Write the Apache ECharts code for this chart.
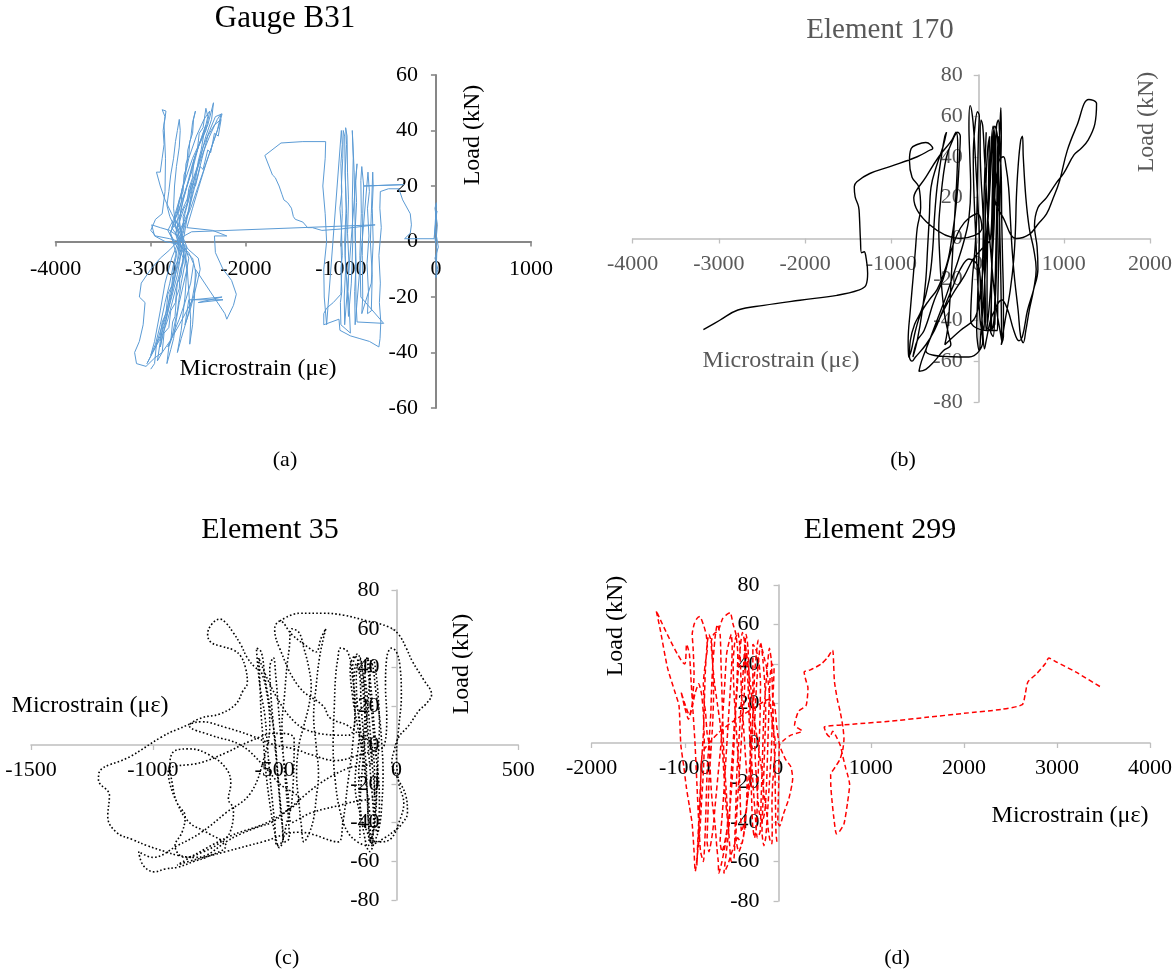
<!DOCTYPE html>
<html><head><meta charset="utf-8">
<script src="https://cdn.jsdelivr.net/npm/echarts@6/dist/echarts.min.js"></script>
<style>html,body{margin:0;padding:0;background:#fff;}#c{width:1175px;height:974px;}</style>
</head><body><div id="c"></div>
<script>
// ---------------- DATA ----------------
const titles = ['Gauge B31', 'Element 170', 'Element 35', 'Element 299'];
const panelLabels = ['(a)', '(b)', '(c)', '(d)'];
const xName = 'Microstrain (με)';
const yName = 'Load (kN)';

// Gauge B31: [microstrain, load kN]
const gaugeB31 = [
[0,0],[15,6],[-10,12],[5,14],[-5,4],[25,-2],[-10,-6],[20,-10],[0,-13],[10,-3],[-15,2],[-5,8],[10,11],[-20,1],
[-330,1],[-270,3],[-258,6],[-270,10],[-350,15],[-390,19],[-500,19],[-585,18],
[-590,12],[-575,5],[-600,-5],[-585,-15],[-595,-22],[-580,-29],[-588,-35],[-600,-38],
[-700,-36],[-800,-35],[-900,-34],[-1010,-32],[-1020,-28],
[-1180,-30],[-1180,-26],[-1150,-24],[-1080,-22],[-1000,-19],
[-990,-10],[-1000,0],[-985,10],[-995,20],[-980,30],[-975,40],[-960,38],
[-955,25],[-940,10],[-955,-5],[-930,-20],[-920,-27],
[-890,-15],[-875,0],[-880,15],[-870,30],[-880,40],
[-860,25],[-850,5],[-845,-10],[-840,-22],
[-830,-29],[-550,-29.5],
[-790,-20],[-800,-5],[-785,10],[-790,22],[-780,27],
[-760,20],[-340,20.5],[-330,21],
[-760,20],[-770,10],[-775,-5],[-770,-20],[-780,-26],
[-680,-15],[-660,0],[-670,12],[-660,20],[-665,25],
[-680,10],[-690,0],[-670,-12],[-680,-25],
[-720,-26],[-710,-18],[-725,-8],[-705,2],[-720,12],[-700,18],[-715,25],
[-850,-30],[-855,-18],[-840,-8],[-850,4],[-835,14],[-845,22],[-830,28],
[-960,-30],[-965,-20],[-950,-10],[-960,0],[-945,12],[-955,25],[-940,35],[-950,41],[-935,38],[-930,25],[-920,15],[-930,3],[-915,-8],[-925,-18],[-910,-25],[-900,-33],
[-1000,-30],[-1005,-22],[-990,-18],[-1000,-10],[-985,-5],[-995,5],[-1010,12],[-990,18],[-1000,28],[-985,35],[-995,40],
[-1150,-30],[-1175,-20],[-1180,-10],[-1150,0],[-1165,10],[-1190,20],[-1165,30],[-1160,36],[-1400,36],[-1630,35.5],[-1800,31],
[-1720,24],[-1690,23],[-1650,20],[-1620,17],[-1600,15],[-1560,14],[-1520,12],[-1500,9],[-1480,8],[-1400,7],[-1350,5],[-1300,5],[-1200,4],[-1000,4.5],[-640,6],[-2570,3.5],
[-2650,2],[-2700,0],[-2760,-8],[-2800,-15],[-2850,-22],[-2900,-30],[-2950,-37],[-3000,-41],[-2960,-36],[-2900,-25],[-2850,-15],[-2780,-6],[-2720,-1],[-2680,3],[-2640,10],[-2580,18],[-2520,25],[-2450,32],[-2380,38],[-2300,44],[-2260,46],[-2300,40],[-2360,34],[-2420,28],[-2500,20],[-2580,12],[-2650,6],[-2720,2],[-2800,4],[-2900,5],[-2990,6],[-2960,2],[-2850,0],[-2700,-1],[-2600,-4],[-2550,-8],[-2580,-15],[-2640,-22],[-2700,-28],[-2760,-33],[-2820,-38],
[-2780,-35],[-2720,-25],[-2680,-15],[-2640,-8],[-2620,-2],[-2680,3],[-2700,8],[-2660,15],[-2600,22],[-2540,30],[-2480,36],[-2400,42],[-2340,50],[-2360,44],[-2420,38],[-2480,30],[-2560,22],[-2620,15],[-2700,9],[-2800,3],[-2750,0],[-2650,-3],[-2560,-6],[-2520,-12],[-2560,-20],[-2620,-28],[-2680,-35],[-2720,-40],
[-2680,-32],[-2640,-20],[-2620,-10],[-2660,-3],[-2720,2],[-2750,8],[-2700,14],[-2650,22],[-2600,30],[-2520,38],[-2440,44],[-2380,47],[-2420,40],[-2500,34],[-2560,26],[-2640,18],[-2720,10],[-2780,5],[-2700,1],[-2600,-3],[-2500,-6],[-2480,-10],[-2520,-16],[-2580,-24],[-2640,-30],
[-2600,-21],[-2240,-21],[-2500,-22],[-2250,-20],[-2560,-21],
[-2700,-30],[-2800,-36],[-2880,-40],[-2960,-42],[-3050,-45],[-3150,-44],[-3170,-40],[-3120,-36],[-3080,-30],[-3060,-22],[-3120,-20],[-3100,-15],[-3000,-10],[-2900,-6],[-2800,-3],[-2720,0],
[-2700,5],[-2780,10],[-2850,15],[-2900,20],[-2940,25],[-2900,25],[-2880,30],[-2860,35],[-2870,40],[-2850,45],[-2880,47.5],[-2840,47],[-2860,42],[-2845,30],[-2850,18],[-2880,10],[-2950,8],[-3000,4],[-2950,2],[-2800,1],[-2700,0],
[-2650,-5],[-2700,-12],[-2760,-20],[-2820,-28],[-2880,-34],[-2900,-38],[-2860,-32],[-2800,-22],[-2740,-12],[-2680,-4],[-2640,4],[-2600,12],[-2560,20],[-2500,28],[-2450,34],[-2380,40],[-2320,45],[-2250,46],[-2280,42],[-2340,36],[-2420,28],[-2500,19],[-2560,12],[-2620,5],
[-2350,4],[-2200,2],[-2330,2],[-2320,-4],[-2240,-10],[-2150,-14],[-2100,-19],[-2130,-23],[-2200,-28],[-2220,-26],
[-2530,-10],[-2540,-20],[-2560,-30],[-2590,-37],[-2580,-28],[-2600,-18],[-2620,-8],[-2660,0],[-2700,6],[-2680,12],[-2620,20],[-2560,28],[-2500,34],[-2460,38],[-2420,42],
[-2480,36],[-2560,30],[-2640,22],[-2700,15],[-2760,8],[-2820,4],[-2760,0],[-2680,-4],[-2720,-12],[-2780,-20],[-2840,-28],[-2900,-35],[-2980,-40],[-3040,-44],[-2950,-38],[-2860,-28],[-2780,-18],[-2720,-8],[-2700,0],[-2640,6],[-2580,14],[-2520,22],[-2460,30],[-2400,38],[-2330,42],[-2260,44],
[-2290,38],[-2330,39],[-2370,32],[-2400,33],[-2450,26],[-2480,27],[-2530,20],[-2570,21],[-2610,14],[-2650,12],[-2700,7],[-2740,3],[-2700,-2],[-2660,-6],[-2680,-12],[-2720,-15],[-2740,-22],[-2790,-25],[-2810,-31],[-2860,-33],[-2880,-40],[-2930,-43],[-2900,-36],[-2870,-30],[-2830,-26],[-2800,-19],[-2770,-15],[-2740,-9],[-2700,-5],[-2680,1],[-2650,4],[-2660,9],[-2620,13],[-2600,19],[-2560,23],[-2550,29],[-2510,33],[-2490,39],[-2450,41],[-2420,48],[-2400,45],[-2440,39],[-2470,33],[-2500,29],[-2530,22],[-2560,18],[-2600,11],[-2640,8],[-2680,5],[-2720,4],[-2760,6],[-2800,9],[-2830,13],[-2810,18],[-2790,24],[-2760,30],[-2740,36],[-2720,40],[-2700,44],[-2690,40],[-2700,34],[-2730,27],[-2750,20],[-2760,12],[-2740,6],[-2700,2],[-2640,-2],[-2600,-6],[-2620,-10],[-2660,-16],[-2700,-22],[-2730,-28],[-2760,-35],[-2790,-39],[-2830,-44],
[-2810,-38],[-2790,-36],[-2770,-29],[-2745,-27],[-2730,-20],[-2700,-17],[-2690,-10],[-2660,-8],[-2650,-2],[-2680,2],[-2720,5],[-2710,10],[-2680,14],[-2670,19],[-2640,22],[-2630,28],[-2600,31],[-2590,36],[-2560,39],[-2550,44],[-2530,47],[-2560,43],[-2580,37],[-2610,33],[-2620,27],[-2650,24],[-2660,18],[-2700,15],[-2720,10],[-2760,7],[-2790,3],[-2760,-1],[-2730,-5],[-2760,-10],[-2780,-16],[-2820,-19],[-2840,-26],[-2880,-29],[-2900,-34],[-2940,-37],[-2960,-44],[-3000,-46]
];

// Element 170
const element170 = [
[-3180,-44.6],[-2990,-40],[-2780,-35],[-2480,-32.7],[-2060,-30.2],[-1630,-27.8],[-1380,-25.3],[-1295,-22.9],[-1275,-17],[-1295,-9],[-1315,-6.5],[-1345,-7],[-1358,-1],[-1370,10.6],[-1380,15.5],[-1420,20.4],[-1430,25.3],[-1400,27.8],[-1250,31.8],[-1000,35.4],[-700,40],[-550,43.3],
[-520,44],[-600,47],[-700,46],[-770,44],[-790,38],[-760,30],[-680,25],[-660,15],[-700,5],[-720,-5],[-745,-18],[-780,-35],[-805,-50],[-800,-58],[-770,-55],[-720,-45],[-650,-36],[-560,-30],[-470,-25],[-400,-18],[-340,-10],[-300,0],[-260,12],[-230,25],[-210,40],[-200,50],[-230,52],[-300,47],[-360,40],[-400,30],[-430,18],[-450,5],[-440,-8],[-420,-22],[-380,-38],[-330,-48],[-310,-52],
[-400,-55],[-500,-60],[-600,-64],[-680,-65],[-650,-60],[-560,-50],[-470,-40],[-380,-30],[-300,-20],[-220,-10],[-150,0],[-100,10],[-80,25],[-90,40],[-100,55],[-85,65],[-60,60],[-40,50],[-20,35],[0,20],[20,0],[10,-15],[0,-30],[-10,-45],[20,-55],[40,-45],[70,-30],[90,-15],[110,0],[130,15],[150,30],[170,45],[200,55],[230,50],[240,35],[250,20],[260,0],[270,-20],[275,-35],[280,-50],[260,-45],[220,-35],[180,-20],[150,-5],[120,10],[100,25],[80,40],[60,55],[40,58],[30,45],[40,30],[60,15],[70,0],[80,-15],[90,-30],[100,-45],[120,-40],[150,-25],[170,-10],[190,5],[200,20],[210,40],[220,55],[240,58],[260,45],[275,30],[280,10],[290,-10],[300,-30],[300,-48],[275,-52],
[320,-40],[380,-25],[420,-10],[440,5],[450,20],[470,35],[500,48],[520,50],[530,40],[560,20],[600,5],[650,-5],[680,-15],[650,-25],[600,-35],[560,-45],[530,-51],[500,-48],[470,-35],[430,-20],[400,-5],[380,10],[360,25],[330,35],[300,40],[250,38],
[200,20],[300,10],[450,0],[600,2],[700,7],[800,12],[870,19],[950,28],[1040,43],[1150,55],[1290,68],[1380,66],[1360,56],[1280,48],[1200,44],[1120,41],[1000,32],[910,27],[800,20],[700,15],[660,6],[690,-4],[700,-15],[650,-25],[580,-35],[520,-48],[480,-50],[420,-45],[350,-35],[280,-30],[200,-35],[150,-40],[100,-50],[80,-54],[60,-45],[40,-30],[20,-15],
[-100,-10],[-200,-15],[-300,-25],[-400,-35],[-500,-45],[-600,-52],[-720,-58],[-760,-60],[-790,-58],[-780,-50],[-730,-42],[-650,-35],[-560,-20],[-520,-5],[-500,10],[-470,25],[-420,40],[-380,50],[-360,52],[-400,45],[-480,35],[-540,25],[-560,10],[-580,-5],[-600,-20],[-640,-35],[-700,-50],[-750,-58],
[-700,-50],[-620,-45],[-500,-30],[-400,-20],[-300,-5],[-200,5],[-100,10],[0,12],[50,5],
[-200,0],[-740,20],[-600,30],[-450,40],[-300,48],[-250,52],[-230,45],[-240,30],[-260,15],[-280,0],[-300,-15],[-320,-30],[-350,-45],[-380,-52],
[-200,-45],[-50,-40],[0,-35],[50,-20],[100,0],[130,20],[150,40],[180,55],[200,48],[190,30],[180,10],[170,-10],[160,-30],[150,-45],[180,-48],[200,-35],[220,-15],[230,5],[240,25],[250,45],[260,55],[270,64],[275,50],[265,30],[255,10],[245,-10],[235,-30],[230,-45],
[100,-45],[-80,-40],[-60,-20],[-30,-5],[-10,10],[0,30],[10,50],[20,60],[0,62],[-30,55],[-50,40],[-40,20],[-20,0],[0,-20],[30,-40],[60,-50],
[-100,-58],[-600,-55],[-450,-40],[-300,-28],[-150,-18],[-50,-10],[50,-5],[150,0],
[170,20],[180,40],[190,52],[185,30],[175,10],[165,-10],[160,-30],[165,-45],[190,-40],[205,-20],[215,0],[225,20],[230,40],[240,50],[235,30],[225,10],[215,-10],[205,-30],[200,-42],[120,-45],[110,-25],[115,-5],[125,15],[130,35],[140,50],[120,45],[100,30],[90,10],[85,-10],[80,-30],[75,-45],[50,-40],[55,-20],[65,0],[75,20],[90,40],[100,52]
];

// Element 35
const element35 = [
[-478,64],[-400,68],[-300,68],[-217,67],[-120,64],[-33,61],[9,57],[40,50],[66,43],[110,34],[144,26],[120,21],[94,18],[50,10],[9,4],[-10,-3],[-19,-9],[0,-16],[38,-26],[45,-35],[20,-41],[-5,-44],[-50,-48],[-97,-51],
[-120,-45],[-150,-35],[-170,-20],[-160,-5],[-150,10],[-170,25],[-180,40],[-160,47],[-140,38],[-130,20],[-120,5],[-110,-10],[-100,-25],[-90,-40],[-80,-45],[-70,-30],[-75,-15],[-90,0],[-100,15],[-110,30],[-120,45],[-100,42],[-85,28],[-70,15],[-60,0],[-55,-15],[-60,-30],[-70,-42],[-90,-50],[-110,-55],[-130,-48],[-150,-30],[-155,-15],[-140,0],[-130,15],[-140,30],[-155,42],[-170,46],[-190,40],[-180,25],[-160,10],[-140,-5],[-125,-20],[-110,-35],[-105,-48],
[-60,-50],[-20,-48],[10,-40],[30,-30],[10,-20],[0,-5],[10,10],[20,25],[15,40],[0,48],[-20,50],[-40,45],[-45,30],[-40,15],[-50,0],
[-150,-5],[-250,-8],[-350,-5],[-420,-2],[-500,0],
[-600,5],[-700,9],[-800,12],[-900,8],[-966,4],[-1093,-6],[-1220,-14],[-1223,-18],[-1178,-26],[-1185,-37],[-1150,-45],[-1080,-49],[-1022,-52],[-950,-55],[-895,-57],[-830,-58],[-782,-57],[-700,-50],[-641,-46],[-560,-42],[-513,-40],[-460,-35],[-400,-28],
[-480,-20],[-550,-10],[-640,0],[-760,5],[-850,10],[-800,14],[-725,16],[-660,21],[-630,28],[-612,32],[-620,40],[-640,46],[-669,49],[-720,51],[-761,53],[-775,57],[-760,62],[-725,65],[-700,63],[-670,58],[-640,52],[-612,45],[-580,40],[-556,38],
[-530,25],[-520,10],[-540,-5],[-600,-25],[-700,-35],[-800,-45],[-900,-52],[-1000,-58],[-1058,-55],[-1040,-62],[-994,-65.5],[-950,-64],[-895,-63],[-830,-60],[-782,-58],[-700,-52],
[-780,-45],[-850,-40],[-900,-30],[-920,-20],[-930,-10],[-910,-3],[-850,-2],[-770,-5],[-700,-12],[-680,-20],[-690,-28],[-669,-33],[-683,-45],[-720,-50],[-790,-55],[-870,-58],[-909,-52],[-880,-45],[-867,-37],[-900,-30],[-930,-20],[-937,-13],
[-800,-9],[-700,-4],[-600,2],[-500,6],[-471,6],[-420,3],
[-430,-30],[-450,-40],[-470,-50],[-490,-52],[-500,-40],[-510,-28],[-520,-15],[-530,0],[-540,15],[-560,30],[-570,42],[-575,50],[-555,48],[-540,35],[-520,20],[-500,5],[-490,-10],[-480,-25],[-470,-38],[-460,-50],[-440,-48],[-445,-35],[-455,-20],[-465,-5],[-470,10],[-460,25],[-450,40],[-440,50],[-430,60],[-400,58],[-380,50],[-360,40],[-350,30],[-360,20],[-380,10],[-400,0],[-410,-15],[-400,-30],[-390,-42],[-380,-50],[-360,-46],[-340,-38],[-330,-28],[-320,-15],[-330,0],[-340,15],[-330,30],[-316,45],[-300,55],[-290,60],[-310,55],[-330,48],
[-358,50],[-429,57],[-478,64],[-500,60],[-480,50],
[-400,30],[-300,20],[-273,14],[-200,10],[-150,5],[-100,0],
[-90,-20],[-95,-40],[-120,-52],[-160,-50],[-200,-45],[-230,-35],[-250,-20],[-260,0],[-255,20],[-250,35],[-240,45],[-230,50],[-200,48],[-180,35],[-170,20],[-180,0],[-200,-20],[-220,-40],[-240,-50],
[-400,-45],[-550,-50],[-700,-55],[-850,-60],[-900,-62],[-700,-48],[-500,-38],[-316,-20],[-200,-12],[-100,-8],
[-110,10],[-120,25],[-130,40],[-120,45],[-105,30],[-95,15],[-85,0],[-80,-15],[-85,-30],[-95,-45],[-100,-52],[-115,-40],[-120,-25],[-130,-10],[-145,5],[-160,20],[-165,35],[-150,45],[-135,35],[-125,20],[-115,5],[-100,-10],[-90,-25],
[-200,-30],[-350,-35],[-430,-40],[-445,-25],[-460,-10],[-475,5],[-485,20],[-495,35],[-505,45],[-520,40],[-515,25],[-505,10],[-495,-5],[-485,-20],[-475,-35],[-465,-48],[-480,-53],[-500,-45],[-520,-30],[-535,-15],[-545,0],[-555,15],[-560,30],[-565,45],
[-400,10],[-200,5],[-170,15],[-175,30],[-165,42],[-150,35],[-145,20],[-135,5],[-125,-10],[-120,-25],[-115,-40],[-110,-50],[-95,-45],[-85,-35],[-80,-20],[-75,-5],[-70,10],[-75,25],[-85,38],[-95,44],[-105,40],[-115,25],[-125,10],[-135,-5],[-145,-20],[-150,-35],[-150,-48]
];

// Element 299
const element299 = [
[-10,-50],[-20,-45],[-25,-30],[-30,-15],[-40,0],[-50,15],[-60,30],[-70,42],[-90,48],[-110,40],[-130,28],[-150,15],[-160,0],[-170,-15],[-180,-30],[-190,-45],[-220,-48],[-240,-38],[-260,-25],[-280,-10],[-290,5],[-300,20],[-310,35],[-320,48],[-340,55],[-360,45],[-380,30],[-400,15],[-420,0],[-440,-15],[-450,-30],[-460,-45],[-470,-58],[-500,-60],[-520,-50],[-540,-35],[-560,-20],[-580,-5],[-590,10],[-600,25],[-610,40],[-620,55],[-650,60],[-670,55],[-690,45],[-710,30],[-720,15],[-740,0],[-760,-15],[-770,-30],[-780,-45],[-800,-60],[-830,-55],[-850,-40],[-870,-20],[-890,0],[-910,15],[-930,30],[-950,45],[-980,50],[-1000,40],
[-1307,67],[-1266,58],[-1185,38],[-1100,25],[-1062,19],[-1042,-1],[-1010,-12],[-981,-23],[-950,-32],[-920,-41],[-900,-55],[-887,-65],
[-860,-55],[-838,-45],[-820,-30],[-800,-15],[-790,0],[-800,15],[-820,25],[-850,30],[-890,25],[-920,18],[-960,12],[-1000,18],[-1040,26],[-1000,20],[-950,14],[-920,20],[-900,35],[-910,48],[-920,55],[-900,60],[-870,63],[-838,64],[-800,60],[-770,55],[-757,48],[-780,40],[-800,30],[-790,20],[-777,16],[-760,5],[-736,-1],[-730,-10],[-716,-23],[-700,-32],[-675,-41],[-660,-50],[-655,-53],[-640,-60],[-634,-66],
[-600,-60],[-560,-50],[-540,-40],[-560,-30],[-580,-15],[-600,0],[-620,10],[-650,20],[-680,30],[-700,40],[-716,51],[-690,55],[-640,57],[-593,63],[-550,65],[-512,66],[-480,60],[-450,55],[-430,45],[-440,30],[-460,15],[-480,0],[-500,-15],[-510,-25],[-520,-40],[-540,-50],[-560,-58],[-580,-66],
[-540,-62],[-512,-58],[-470,-52],[-430,-48],[-390,-51],[-360,-45],[-340,-35],[-330,-20],[-350,-5],[-370,10],[-390,25],[-400,38],[-410,50],[-430,56],[-460,52],[-480,40],[-470,25],[-450,10],[-430,-5],[-410,-20],[-400,-35],[-390,-45],
[-360,-40],[-330,-30],[-300,-20],[-280,-5],[-270,10],[-268,25],[-268,40],[-268,50],[-240,48],[-220,45],[-200,40],[-186,30],[-190,15],[-200,0],[-210,-15],[-220,-30],[-230,-42],[-250,-48],[-270,-42],[-280,-30],[-290,-15],[-300,0],[-310,15],[-320,30],[-340,45],[-349,50],
[-320,40],[-290,28],[-260,15],[-230,5],[-200,-5],[-170,-15],[-150,-25],[-120,-35],[-100,-45],[-80,-50],[-63,-51],[-60,-40],[-63,-31],[-55,-20],[-43,-14],[-30,-5],[-23,-1],[-40,5],[-63,11],[-80,20],[-104,31],[-120,38],[-145,43],[-160,46],[-186,50],[-200,45],[-220,35],[-240,20],[-250,5],[-240,-10],[-220,-25],[-200,-35],[-170,-40],[-140,-35],[-120,-20],[-110,-5],[-100,10],[-90,25],[-80,35],
[-60,40],[-40,38],[-50,25],[-60,10],[-70,-5],[-90,-20],[-110,-35],[-130,-48],[-150,-52],[-170,-45],[-160,-30],[-150,-15],[-140,0],[-130,15],[-140,30],[-160,42],[-180,50],[-210,52],[-230,45],[-250,35],[-260,20],[-280,5],[-300,-10],[-320,-25],[-350,-40],[-380,-50],[-420,-55],[-450,-48],[-440,-35],[-420,-20],[-400,-5],[-380,10],[-360,25],[-350,40],[-360,52],[-380,56],[-400,50],[-420,40],[-440,25],[-460,10],[-480,-10],[-500,-25],[-520,-35],[-560,-48],[-600,-55],[-620,-50],[-600,-38],[-580,-25],[-560,-10],[-540,5],[-520,20],[-500,35],[-490,48],[-500,55],[-520,52],[-550,45],[-570,30],[-590,15],[-610,0],[-640,-15],[-670,-30],[-700,-45],[-740,-55],[-760,-50],[-750,-35],[-740,-20],[-720,-5],[-700,10],[-690,25],[-700,40],[-710,50],[-740,55],[-760,50],[-780,35],[-790,20],[-800,5],[-820,-10],[-840,-30],[-860,-50],[-870,-62],
[-850,-45],[-830,-25],[-810,-5],[-640,5],[-450,12],[-250,18],[-100,22],[-40,20],
[-10,8],[18,-1],[80,-8],[140,-12],[160,-18],[120,-28],[60,-36],[20,-42],[0,-40],[10,-20],[18,-1],
[80,2],[140,4],[263,6],[180,9],[222,16],[304,19],[324,28],[300,32],[283,36],[350,37],[467,40],[530,43],[589,47],[600,40],[609,31],[640,22],[670,16],[700,8],[711,2],[700,-3],[670,-8],[620,-12],[568,-16],[570,-22],[580,-28],[600,-37],[630,-46],[660,-45],[711,-41],[750,-30],[772,-21],[750,-16],[731,-13],[700,-7],[670,-1],[620,4],[590,6],[560,3],[520,5],[499,8],
[800,9.5],[1200,11],[1600,13],[2000,15],[2400,17],[2627,19.4],[2660,25],[2688,31],[2780,35],[2872,40],[2913,43],[2994,41],[3200,36],[3483,28]
];

// ---------------- CHART ----------------
const FONT = '"Liberation Serif", "Times New Roman", serif';
const chart = echarts.init(document.getElementById('c'), null, {renderer: 'canvas'});

const grids = [
  {left: 55.7, top: 75, width: 475.3, height: 333},
  {left: 632.7, top: 75, width: 519, height: 327},
  {left: 31, top: 590, width: 487.3, height: 310},
  {left: 591.7, top: 585, width: 560.6, height: 316}
];
const xRanges = [[-4000, 1000, 1000], [-4000, 2000, 1000], [-1500, 500, 500], [-2000, 4000, 1000]];
const yRanges = [[-60, 60, 20], [-80, 80, 20], [-80, 80, 20], [-80, 80, 20]];
const axisColors = ['#878787', '#bfbfbf', '#bfbfbf', '#bfbfbf'];
const axisWidths = [2, 1.6, 1.6, 1.6];
const labelColors = ['#000', '#595959', '#000', '#000'];
const xMargins = [17, 15, 14, 14];
const yMargins = [18, 16, 17, 19];

// place each axis through the other axis' zero using offsets
function zeroFrac(r) { return (0 - r[0]) / (r[1] - r[0]); }

const xAxis = grids.map((g, i) => ({
  type: 'value', gridIndex: i, min: xRanges[i][0], max: xRanges[i][1], interval: xRanges[i][2],
  position: 'bottom', offset: -g.height * zeroFrac(yRanges[i]),
  axisLine: {onZero: false, lineStyle: {color: axisColors[i], width: axisWidths[i]}},
  axisTick: {show: true, length: 5, lineStyle: {color: axisColors[i], width: axisWidths[i] * 0.8}},
  axisLabel: {color: labelColors[i], fontFamily: FONT, fontSize: 22, margin: xMargins[i], showMinLabel: true, showMaxLabel: true,
    formatter: v => String(v)},
  splitLine: {show: false}
}));
const yAxis = grids.map((g, i) => ({
  type: 'value', gridIndex: i, min: yRanges[i][0], max: yRanges[i][1], interval: yRanges[i][2],
  position: 'left', offset: -g.width * zeroFrac(xRanges[i]),
  axisLine: {show: true, onZero: false, lineStyle: {color: axisColors[i], width: axisWidths[i]}},
  axisTick: {show: true, length: 5, lineStyle: {color: axisColors[i], width: axisWidths[i] * 0.8}},
  axisLabel: {color: labelColors[i], fontFamily: FONT, fontSize: 22, margin: yMargins[i], showMinLabel: true, showMaxLabel: true,
    formatter: v => String(v)},
  splitLine: {show: false}
}));

const seriesData = [gaugeB31, element170, element35, element299];
const lineStyles = [
  {color: '#5b9bd5', width: 1, type: 'solid'},
  {color: '#000000', width: 1.4, type: 'solid'},
  {color: '#000000', width: 1.6, type: [1.6, 2.2]},
  {color: '#ff0000', width: 1.5, type: [5, 3]}
];
const smooths = [false, 0.4, 0.4, 0.2];
const series = seriesData.map((d, i) => ({
  type: 'line', xAxisIndex: i, yAxisIndex: i, data: d, showSymbol: false, symbol: 'none',
  smooth: smooths[i], lineStyle: lineStyles[i], z: 3, silent: true, animation: false
}));

function txt(text, x, y, size, color, rot) {
  return {type: 'text', x: x, y: y, rotation: rot || 0, z: 10, silent: true,
    style: {text: text, font: size + 'px ' + FONT, fill: color, align: 'center', verticalAlign: 'middle'}};
}
const graphic = [
  txt(titles[0], 285, 19, 31, '#000'),
  txt(titles[1], 880, 30, 29, '#595959'),
  txt(titles[2], 270, 530, 30, '#000'),
  txt(titles[3], 880, 530, 30, '#000'),
  txt(panelLabels[0], 285, 460, 22, '#000'),
  txt(panelLabels[1], 903, 460, 22, '#000'),
  txt(panelLabels[2], 287, 958, 22, '#000'),
  txt(panelLabels[3], 897, 958, 22, '#000'),
  txt(yName, 473, 135, 24, '#000', Math.PI / 2),
  txt(xName, 258, 369, 24, '#000'),
  txt(yName, 1147, 122, 24, '#595959', Math.PI / 2),
  txt(xName, 781, 361, 24, '#595959'),
  txt(yName, 462, 664, 24, '#000', Math.PI / 2),
  txt(xName, 90, 706, 24, '#000'),
  txt(yName, 616, 626, 24, '#000', Math.PI / 2),
  txt(xName, 1070, 816, 24, '#000')
];

chart.setOption({
  animation: false,
  backgroundColor: '#ffffff',
  grid: grids.map(g => Object.assign({containLabel: false}, g)),
  xAxis: xAxis,
  yAxis: yAxis,
  series: series,
  graphic: graphic
});
</script>
</body></html>
